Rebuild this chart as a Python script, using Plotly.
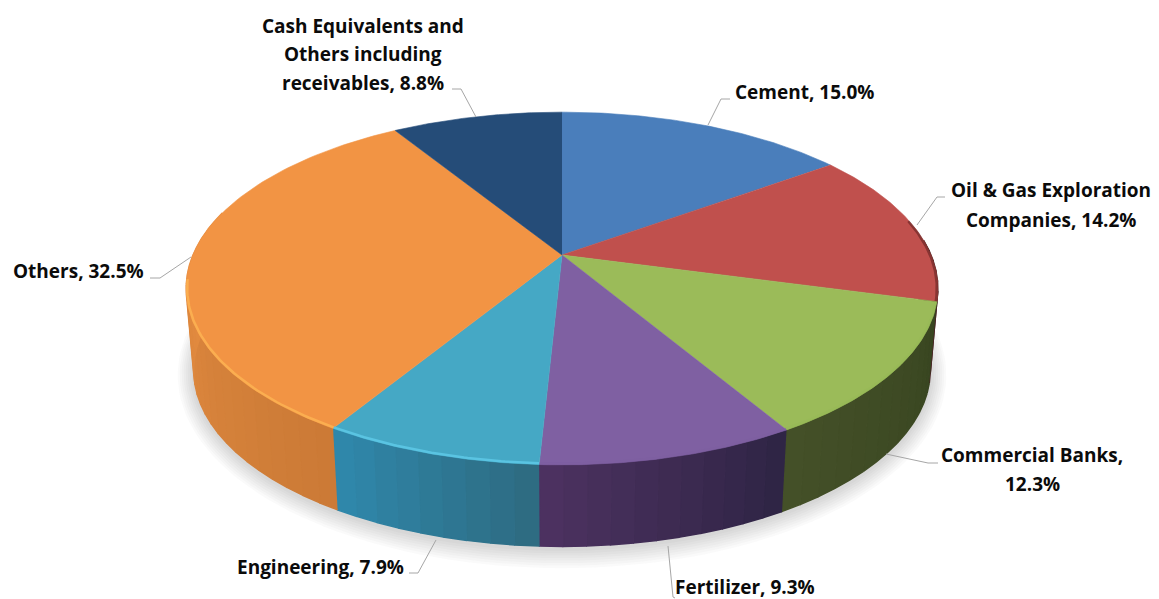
import numpy as np
import plotly.graph_objects as go

# ---- data ----
categories = ["Cement", "Oil & Gas Exploration Companies", "Commercial Banks", "Fertilizer",
              "Engineering", "Others", "Cash Equivalents and Others including receivables"]
values = [15.0, 14.2, 12.3, 9.3, 7.9, 32.5, 8.8]

# ---- styles ----
top_colors = ["#4A7EBB", "#C0504D", "#9BBB59", "#7F60A2", "#45A8C5", "#F29444", "#254C78"]
wall_right = ["#2B4A70", "#3A1E1E", "#384520", "#2E2444", "#2E6A80", "#CB7A36", "#16304E"]
wall_left = ["#2B4A70", "#4A2524", "#445028", "#4D3261", "#2F89AD", "#E88F42", "#16304E"]
rim_colors = [None, "rgba(90,30,30,0.55)", "rgba(150,185,85,0.5)", "rgba(125,95,160,0.6)",
              "#5AC4E2", "#FBAE50", None]

label_lines = [["Cement, 15.0%"],
               ["Oil & Gas Exploration", "Companies, 14.2%"],
               ["Commercial Banks,", "12.3%"],
               ["Fertilizer, 9.3%"],
               ["Engineering, 7.9%"],
               ["Others, 32.5%"],
               ["Cash Equivalents and", "Others including", "receivables, 8.8%"]]
label_pos = [[(804, 92)],
             [(1051, 190), (1051, 220)],
             [(1032, 455), (1032, 484)],
             [(745, 587)],
             [(320, 567)],
             [(78, 271)],
             [(363, 26), (363, 54), (363, 83)]]
leaders = [[(708, 125), (721, 99), (730, 99)],
           [(917, 225), (937, 197), (945, 197)],
           [(886, 454), (928, 463), (938, 463)],
           [(668, 546), (673, 597), (675, 598)],
           [(436, 540), (418, 573), (409, 573)],
           [(191, 257), (160, 278), (150, 278)],
           [(476, 117), (461, 89), (452, 89)]]

# ---- perspective pie geometry ----
CX, CY, A, B, K = 562, 255, 369, 170, 0.19
DEPTH, SHRINK = 81.5, 0.98


def top(theta, grow=0.0):
    u, v = np.sin(theta), np.cos(theta)
    s = 1 + K * v
    return CX + (A + grow) * u / s, CY - (B + grow) * v / s


def bottom(theta, grow=0.0):
    x, y = top(theta, grow)
    return CX + (x - CX) * SHRINK, y + DEPTH


def hex_rgb(h):
    return np.array([int(h[i:i + 2], 16) for i in (1, 3, 5)], float)


def mix(a, b, t):
    c = hex_rgb(a) * (1 - t) + hex_rgb(b) * t
    return "rgb(%d,%d,%d)" % tuple(c.round())


fracs = np.array(values) / sum(values)
edges = np.concatenate([[0], np.cumsum(fracs)]) * 2 * np.pi

fig = go.Figure()


def poly(x, y, color, lw=0.6):
    fig.add_trace(go.Scatter(x=list(x), y=list(y), mode="lines", fill="toself", fillcolor=color,
                             line=dict(color=color, width=lw), hoverinfo="skip", showlegend=False))


def stroke(x, y, color, w):
    fig.add_trace(go.Scatter(x=list(x), y=list(y), mode="lines", line=dict(color=color, width=w),
                             hoverinfo="skip", showlegend=False))


# soft shadow under the disc
full = np.linspace(0, 2 * np.pi, 181)
for g in range(16, 0, -2):
    x, y = bottom(full, g)
    poly(x, y + 2, "rgba(60,60,60,0.028)", 0)

# side walls (front half only), banded for the gradient
for i in range(len(values)):
    lo, hi = max(edges[i], np.radians(85)), min(edges[i + 1], np.radians(285))
    if hi <= lo:
        continue
    n = max(2, int((hi - lo) / np.radians(3)))
    cuts = np.linspace(lo, hi, n + 1)
    for j in range(n):
        arc = np.linspace(cuts[j], cuts[j + 1], 5)
        xt, yt = top(arc)
        xb, yb = bottom(arc)
        t = (j + 0.5) / n
        poly(np.r_[xt, xb[::-1]], np.r_[yt, yb[::-1]], mix(wall_right[i], wall_left[i], t), 1.5)

# top face
for i in range(len(values)):
    arc = np.linspace(edges[i], edges[i + 1], 90)
    x, y = top(arc)
    poly(np.r_[CX, x], np.r_[CY, y], top_colors[i])

# bevel highlight on the rim
for i in range(len(values)):
    if rim_colors[i] is None:
        continue
    lo, hi = max(edges[i], np.radians(78)), min(edges[i + 1], np.radians(262))
    arc = np.linspace(lo, hi, 60)
    x, y = top(arc, -1.0)
    stroke(x, y, rim_colors[i], 2.5)

# labels and leader lines
shapes = []
for pts in leaders:
    path = "M " + " L ".join(f"{px},{py}" for px, py in pts)
    shapes.append(dict(type="path", path=path, line=dict(color="#A6A6A6", width=1), xref="x", yref="y"))

annotations = []
for lines, poss in zip(label_lines, label_pos):
    for text, (px, py) in zip(lines, poss):
        annotations.append(dict(x=px, y=py, text=text, showarrow=False, xanchor="center", yanchor="middle",
                                font=dict(family="Open Sans, sans-serif", size=19, color="#0b0b0b",
                                          weight="bold")))

fig.update_layout(
    width=1159, height=599, margin=dict(l=0, r=0, t=0, b=0),
    paper_bgcolor="white", plot_bgcolor="white", showlegend=False,
    xaxis=dict(range=[0, 1159], visible=False, fixedrange=True),
    yaxis=dict(range=[599, 0], visible=False, fixedrange=True),
    shapes=shapes, annotations=annotations,
)
fig.write_html("out.html", config={"displayModeBar": False},
               post_script="document.body.style.margin='0';document.body.style.overflow='hidden';")
